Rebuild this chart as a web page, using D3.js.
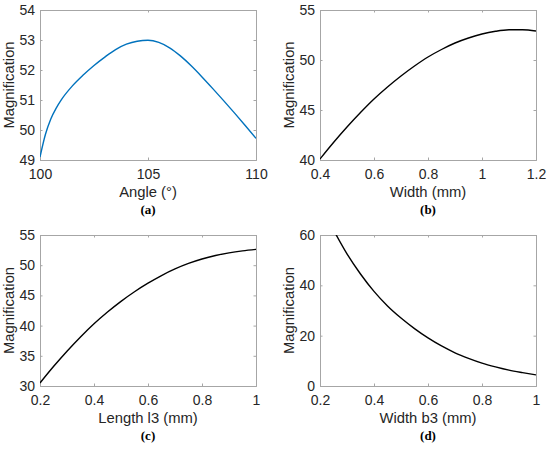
<!DOCTYPE html>
<html>
<head>
<meta charset="utf-8">
<script src="https://cdn.jsdelivr.net/npm/d3@7"></script>
<style>
  body { margin: 0; background: #fff; }
  svg { display: block; }
  .tick text { font-family: 'Liberation Sans', Arial, sans-serif; font-size: 14px; fill: #262626; }
</style>
</head>
<body>
<svg width="550" height="449"></svg>
<script>
// (a) magnification vs angle
const angleX = [ 100, 100.25, 100.5, 100.75, 101, 101.5, 102, 102.5, 103, 103.5, 104, 104.5, 105, 105.5, 106, 106.5, 107, 107.5, 108, 108.5, 109, 109.5, 110 ]
const angleY = [ 49.1, 49.85, 50.37, 50.73, 51.02, 51.47, 51.83, 52.15, 52.43, 52.68, 52.86, 52.96, 52.99, 52.92, 52.74, 52.47, 52.14, 51.77, 51.38, 50.98, 50.57, 50.15, 49.72 ]
const angleTicksX = [ 100, 105, 110 ]
const angleTicksY = [ 49, 50, 51, 52, 53, 54 ]

// (b) magnification vs width
const widthX = [ 0.4, 0.45, 0.5, 0.55, 0.6, 0.65, 0.7, 0.75, 0.8, 0.85, 0.9, 0.95, 1.0, 1.05, 1.1, 1.15, 1.2 ]
const widthY = [ 40.1, 41.75, 43.3, 44.75, 46.1, 47.3, 48.4, 49.4, 50.3, 51.05, 51.7, 52.2, 52.6, 52.87, 53.02, 53.03, 52.9 ]
const widthTicksX = [ 0.4, 0.6, 0.8, 1, 1.2 ]
const widthTicksY = [ 40, 45, 50, 55 ]

// (c) magnification vs length l3
const lengthX = [ 0.2, 0.25, 0.3, 0.35, 0.4, 0.45, 0.5, 0.55, 0.6, 0.65, 0.7, 0.75, 0.8, 0.85, 0.9, 0.95, 1.0 ]
const lengthY = [ 30.5, 33.22, 35.76, 38.12, 40.3, 42.25, 44.02, 45.61, 47.02, 48.29, 49.38, 50.29, 51.02, 51.6, 52.05, 52.38, 52.62 ]
const lengthTicksX = [ 0.2, 0.4, 0.6, 0.8, 1 ]
const lengthTicksY = [ 30, 35, 40, 45, 50, 55 ]

// (d) magnification vs width b3
const b3X = [ 0.25, 0.3, 0.35, 0.4, 0.45, 0.5, 0.55, 0.6, 0.65, 0.7, 0.75, 0.8, 0.85, 0.9, 0.95, 1.0 ]
const b3Y = [ 62.0, 52.5, 44.5, 37.6, 31.8, 27.0, 22.8, 19.1, 15.9, 13.2, 11.0, 9.1, 7.6, 6.3, 5.3, 4.4 ]
const b3TicksX = [ 0.2, 0.4, 0.6, 0.8, 1 ]
const b3TicksY = [ 0, 20, 40, 60 ]

const svg = d3.select( 'svg' )

const panels = [
	{ x: angleX, y: angleY, tx: angleTicksX, ty: angleTicksY, xl: 'Angle (°)', tag: '(a)', left: 40, top: 10, bottom: 160, color: '#0072bd' },
	{ x: widthX, y: widthY, tx: widthTicksX, ty: widthTicksY, xl: 'Width (mm)', tag: '(b)', left: 320, top: 10, bottom: 160, color: '#000' },
	{ x: lengthX, y: lengthY, tx: lengthTicksX, ty: lengthTicksY, xl: 'Length l3 (mm)', tag: '(c)', left: 40, top: 235, bottom: 386, color: '#000' },
	{ x: b3X, y: b3Y, tx: b3TicksX, ty: b3TicksY, xl: 'Width b3 (mm)', tag: '(d)', left: 320, top: 235, bottom: 386, color: '#000' }
]

const fmt = d => String( +d.toFixed( 1 ) )

panels.forEach( ( p, i ) => {

	const w = 216,
		x = d3.scaleLinear().domain( d3.extent( p.tx ) ).range( [ p.left, p.left + w ] ),
		y = d3.scaleLinear().domain( d3.extent( p.ty ) ).range( [ p.bottom, p.top ] ),
		g = svg.append( 'g' )

	g.append( 'clipPath' ).attr( 'id', 'clip' + i )
		.append( 'rect' )
		.attr( 'x', p.left ).attr( 'y', p.top )
		.attr( 'width', w ).attr( 'height', p.bottom - p.top )

	// ticks inside, on all four sides like matlab's box
	const axes = [
		[ d3.axisBottom( x ).tickValues( p.tx ).tickSize( -2.5 ).tickPadding( 6 ).tickFormat( fmt ), `translate(0,${p.bottom})`, true ],
		[ d3.axisTop( x ).tickValues( p.tx ).tickSize( -2.5 ).tickFormat( '' ), `translate(0,${p.top})`, false ],
		[ d3.axisLeft( y ).tickValues( p.ty ).tickSize( -2.5 ).tickPadding( 5 ).tickFormat( fmt ), `translate(${p.left},0)`, false ],
		[ d3.axisRight( y ).tickValues( p.ty ).tickSize( -2.5 ).tickFormat( '' ), `translate(${p.left + w},0)`, false ]
	]

	axes.forEach( ( [ ax, tr, isBottom ] ) => {
		const a = g.append( 'g' ).attr( 'transform', tr ).call( ax )
		a.select( '.domain' ).attr( 'stroke', '#a6a6a6' )
		a.selectAll( '.tick line' ).attr( 'stroke', '#a6a6a6' )
		if ( isBottom ) a.selectAll( '.tick text' ).attr( 'dy', '0.9em' )
	})

	g.append( 'path' )
		.datum( p.x.map( ( d, k ) => [ d, p.y[ k ] ] ) )
		.attr( 'clip-path', `url(#clip${i})` )
		.attr( 'fill', 'none' )
		.attr( 'stroke', p.color )
		.attr( 'stroke-width', 1.4 )
		.attr( 'd', d3.line().x( d => x( d[ 0 ] ) ).y( d => y( d[ 1 ] ) ).curve( d3.curveMonotoneX ) )

	g.append( 'text' )
		.attr( 'transform', `translate(${p.left - 26},${( p.top + p.bottom ) / 2}) rotate(-90)` )
		.attr( 'text-anchor', 'middle' )
		.attr( 'font-family', "'Liberation Sans', Arial, sans-serif" )
		.attr( 'font-size', 14.8 )
		.attr( 'fill', '#262626' )
		.text( 'Magnification' )

	g.append( 'text' )
		.attr( 'x', p.left + w / 2 )
		.attr( 'y', p.bottom + 37 )
		.attr( 'text-anchor', 'middle' )
		.attr( 'font-family', "'Liberation Sans', Arial, sans-serif" )
		.attr( 'font-size', 14.8 )
		.attr( 'fill', '#262626' )
		.text( p.xl )

	g.append( 'text' )
		.attr( 'x', p.left + w / 2 )
		.attr( 'y', p.bottom + 53.5 )
		.attr( 'text-anchor', 'middle' )
		.attr( 'font-family', "'Liberation Serif', 'Times New Roman', serif" )
		.attr( 'font-weight', 'bold' )
		.attr( 'font-size', 13 )
		.attr( 'fill', '#000' )
		.text( p.tag )

})
</script>
</body>
</html>
